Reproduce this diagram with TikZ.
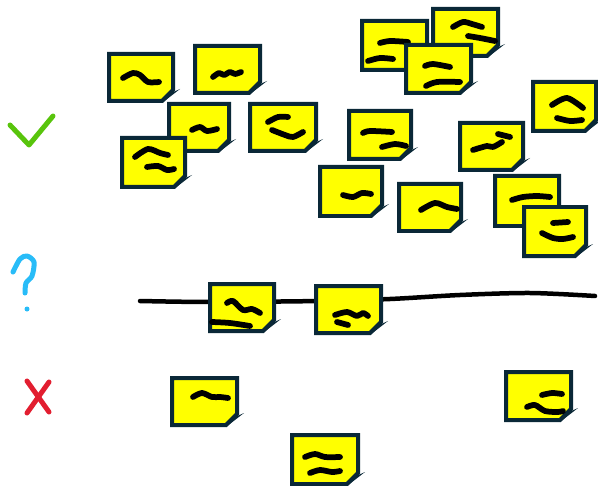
\documentclass[tikz,border=0pt]{standalone}
\usepackage{xcolor}
\usepackage{tikz}
\usetikzlibrary{calc}

\definecolor{noteyellow}{RGB}{255,255,0}
\definecolor{noteedge}{RGB}{10,40,55}
\definecolor{okgreen}{RGB}{88,196,12}
\definecolor{askblue}{RGB}{40,188,248}
\definecolor{nored}{RGB}{226,30,48}

\tikzset{
    notebody/.style={fill=noteyellow, draw=noteedge, line width=0.08cm},
    notefold/.style={fill=noteedge},
    scribble/.style={line width=0.115cm, line cap=round, line join=round},
    sign/.style={line width=0.1cm, line cap=round, line join=round}
}

% giấy nhớ: góc trên trái (#1,#2), rộng #3, cao #4, nét vẽ #5
\newcommand{\stickynote}[5]{%
    \begin{scope}[shift={(#1,#2)}]
        \filldraw[notebody] (2,2) -- (#3-2,2) -- (#3-2,#4-13) -- (#3-13,#4-2) -- (2,#4-2) -- cycle;
        \fill[notefold] (#3-13,#4) -- (#3+5,#4-14) -- (#3-8,#4-8) -- cycle;
        #5
    \end{scope}}

\begin{document}
\begin{tikzpicture}[x=0.02cm, y=-0.02cm]
    \useasboundingbox (0,0) rectangle (598,486);

    % 1. Ký hiệu bên trái
    \draw[sign, okgreen] (10,125) -- (29,145) -- (53,116);
    \draw[sign, askblue] plot[smooth] coordinates {(13,272) (20,259) (27,256) (34,262) (32,276) (26,283) (25,293)};
    \fill[askblue] (27,309) circle (2.5);
    \draw[sign, nored] (27,381) -- (49,412);
    \draw[sign, nored] (49,382) -- (27,413);

    % 2. Nhóm trên
    \stickynote{107}{52}{68}{51}{\draw[scribble] plot[smooth] coordinates {(16,26) (26,21) (33,23) (41,30) (52,30)};}
    \stickynote{193}{44}{69}{51}{\draw[scribble] plot[smooth] coordinates {(20,33) (26,29) (31,31) (37,28) (42,30) (48,28)};}
    \stickynote{167}{102}{64}{51}{\draw[scribble] plot[smooth] coordinates {(25,28) (33,25) (40,29) (50,27)};}
    \stickynote{120}{136}{67}{53}{%
        \draw[scribble] plot[smooth] coordinates {(15,21) (28,13) (40,17) (48,19)};
        \draw[scribble] plot[smooth] coordinates {(27,31) (38,30) (47,34) (54,33)};}
    \stickynote{248}{102}{70}{51}{%
        \draw[scribble] plot[smooth] coordinates {(20,20) (30,15) (40,15)};
        \draw[scribble] plot[smooth] coordinates {(24,28) (37,33) (45,35) (55,30)};}
    \stickynote{360}{19}{69}{53}{%
        \draw[scribble] plot[smooth] coordinates {(20,24) (30,22) (48,23)};
        \draw[scribble] plot[smooth] coordinates {(8,42) (20,39) (33,40)};}
    \stickynote{431}{7}{69}{51}{%
        \draw[scribble] plot[smooth] coordinates {(22,20) (32,15) (41,17) (51,20)};
        \draw[scribble] plot[smooth] coordinates {(37,29) (49,31) (64,34)};}
    \stickynote{404}{43}{69}{52}{%
        \draw[scribble] plot[smooth] coordinates {(21,23) (29,21) (46,24)};
        \draw[scribble] plot[smooth] coordinates {(22,43) (33,39) (56,39)};}
    \stickynote{531}{80}{67}{53}{%
        \draw[scribble] plot[smooth] coordinates {(21,25) (36,18) (52,28)};
        \draw[scribble] plot[smooth] coordinates {(26,38) (39,41) (51,40)};}
    \stickynote{347}{109}{66}{52}{%
        \draw[scribble] plot[smooth] coordinates {(16,24) (23,22) (45,23)};
        \draw[scribble] plot[smooth] coordinates {(35,38) (48,35) (59,37)};}
    \stickynote{458}{121}{67}{51}{%
        \draw[scribble] plot[smooth] coordinates {(15,29) (29,25) (35,26) (44,21)};
        \draw[scribble] plot[smooth] coordinates {(40,13) (52,16)};}
    \stickynote{318}{165}{66}{53}{\draw[scribble] plot[smooth] coordinates {(25,30) (35,32) (44,28) (53,29)};}
    \stickynote{397}{182}{66}{51}{\draw[scribble] plot[smooth] coordinates {(24,28) (38,21) (50,25) (60,27)};}
    \stickynote{493}{174}{68}{54}{\draw[scribble] plot[smooth] coordinates {(19,26) (30,23) (44,22) (57,23)};}
    \stickynote{522}{205}{66}{53}{%
        \draw[scribble] plot[smooth] coordinates {(31,18) (46,17)};
        \draw[scribble] plot[smooth] coordinates {(20,28) (31,33) (41,34) (51,32)};}

    % 3. Đường ranh giới
    \draw[line width=0.09cm, line cap=round] plot[smooth] coordinates {(140,301) (210,302) (320,301) (390,299) (460,295) (530,293) (595,296)};
    \stickynote{208}{282}{68}{51}{%
        \draw[scribble] plot[smooth] coordinates {(19,21) (25,19) (35,28) (44,27) (52,31)};
        \draw[scribble] plot[smooth] coordinates {(4,40) (22,41) (42,44)};}
    \stickynote{314}{284}{69}{51}{%
        \draw[scribble] plot[smooth] coordinates {(21,31) (33,28) (43,32) (49,29) (54,32)};
        \draw[scribble] plot[smooth] coordinates {(23,38) (34,41)};}

    % 4. Nhóm dưới
    \stickynote{170}{376}{69}{51}{\draw[scribble] plot[smooth] coordinates {(23,21) (32,17) (42,21) (50,21) (58,22)};}
    \stickynote{290}{433}{70}{53}{%
        \draw[scribble] plot[smooth] coordinates {(15,24) (25,21) (35,24) (50,24)};
        \draw[scribble] plot[smooth] coordinates {(20,40) (30,37) (42,39) (50,38)};}
    \stickynote{504}{370}{69}{52}{%
        \draw[scribble] plot[smooth] coordinates {(38,25) (48,23) (58,24)};
        \draw[scribble] plot[smooth] coordinates {(23,37) (31,35) (41,41) (54,42) (59,41)};}
\end{tikzpicture}
\end{document}
